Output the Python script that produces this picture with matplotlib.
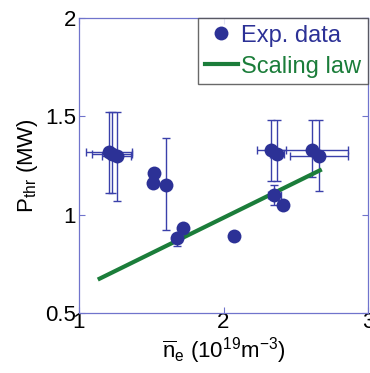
import matplotlib
matplotlib.use('Agg')
import matplotlib.pyplot as plt
from matplotlib.lines import Line2D
import numpy as np

plt.rcParams['font.family'] = ['Liberation Sans', 'DejaVu Sans']
plt.rcParams['mathtext.fontset'] = 'custom'
plt.rcParams['mathtext.rm'] = 'Liberation Sans'
plt.rcParams['mathtext.it'] = 'Liberation Sans:italic'
plt.rcParams['mathtext.bf'] = 'Liberation Sans:bold'

# Experimental data
ne = [1.21, 1.23, 1.26, 1.52, 1.51, 1.60, 1.72, 1.68, 2.07, 2.33, 2.37, 2.35, 2.41, 2.61, 2.66]
pthr = [1.32, 1.31, 1.30, 1.21, 1.16, 1.15, 0.93, 0.88, 0.89, 1.33, 1.31, 1.10, 1.05, 1.33, 1.30]
ne_err = [0.16, 0.14, 0.10, 0, 0, 0, 0, 0, 0, 0.10, 0.05, 0.045, 0, 0.25, 0.20]
p_err_up = [0.20, 0.21, 0.22, 0, 0, 0.24, 0, 0, 0, 0.15, 0.17, 0.05, 0, 0.15, 0.18]
p_err_lo = [0.21, 0.20, 0.23, 0, 0, 0.23, 0, 0.04, 0, 0.16, 0.14, 0.05, 0, 0.14, 0.18]

# Scaling law
ne_fit = [1.13, 2.68]
p_fit = [0.67, 1.23]

xticks = [1, 2, 3]
yticks = [0.5, 1, 1.5, 2]

navy = '#2c3196'
errc = '#3a40aa'
green = '#1b7d3a'
spine = '#7074cc'

fig = plt.figure(figsize=(3.70, 3.73), dpi=100)
ax = fig.add_axes([79/370, 1-313/373, (368-79)/370, (313-18)/373])

ne_a = np.array(ne); p_a = np.array(pthr)
xe = np.array(ne_err); yu = np.array(p_err_up); yl = np.array(p_err_lo)
mx = xe > 0
my = (yu > 0) | (yl > 0)
ax.errorbar(ne_a[my], p_a[my], yerr=[yl[my], yu[my]], fmt='none', ecolor=errc,
            elinewidth=1.0, capsize=3, capthick=1.0, zorder=2)
ax.errorbar(ne_a[mx], p_a[mx], xerr=xe[mx], fmt='none', ecolor=errc,
            elinewidth=1.0, capsize=3, capthick=1.0, zorder=2)
ax.plot(ne_fit, p_fit, color=green, lw=3.0, zorder=3, solid_capstyle='butt')
ax.plot(ne, pthr, 'o', color=navy, markersize=10, zorder=4, markeredgewidth=0)

ax.set_xlim(1, 3)
ax.set_ylim(0.5, 2)
ax.set_xticks(xticks)
ax.set_xticklabels(['1', '2', '3'])
ax.set_yticks(yticks)
ax.set_yticklabels(['0.5', '1', '1.5', '2'])
for s in ax.spines.values():
    s.set_color(spine)
    s.set_linewidth(0.9)
ax.tick_params(direction='in', length=4, color=spine, top=True, right=True,
               labelsize=16, pad=2)
ax.tick_params(axis='x', pad=-1)

ax.set_ylabel(r'P$_{\mathrm{thr}}$ (MW)', fontsize=16, labelpad=4)
ax.set_xlabel(r'$\overline{\mathrm{n}}_{\mathrm{e}}$ (10$^{19}$m$^{-3}$)', fontsize=16, labelpad=2)

handles = [Line2D([], [], marker='o', color=navy, ls='none', markersize=10, markeredgewidth=0),
           Line2D([], [], color=green, lw=3.0)]
leg = ax.legend(handles, ['Exp. data', 'Scaling law'], loc='upper right',
                bbox_to_anchor=(1.0, 1.0), borderaxespad=0.0, fontsize=17,
                frameon=True, fancybox=False, handlelength=1.4, handletextpad=0.15,
                borderpad=0.28, labelspacing=0.38, labelcolor=[navy, green])
leg.get_frame().set_edgecolor('#444444')
leg.get_frame().set_linewidth(1.0)

fig.savefig('out.png', dpi=100)
